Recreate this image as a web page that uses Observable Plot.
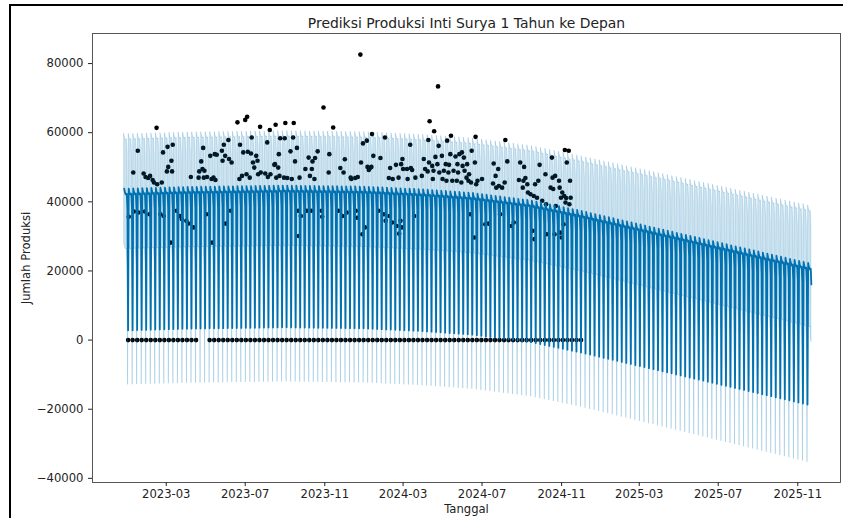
<!DOCTYPE html>
<html><head><meta charset="utf-8">
<script src="https://cdn.jsdelivr.net/npm/d3@7"></script>
<script src="https://cdn.jsdelivr.net/npm/@observablehq/plot@0.6"></script>
<style>
html,body{margin:0;padding:0;background:#fff;width:843px;height:518px;overflow:hidden;}
#wrap{position:relative;width:843px;height:518px;}
#frame{position:absolute;left:9px;top:4px;right:-5px;bottom:-5px;border-left:2.5px solid #000;border-top:2.5px solid #000;pointer-events:none;}
#chart{position:absolute;left:0;top:0;}
</style></head><body>
<div id="wrap"><div id="chart"></div><div id="frame"></div></div>
<script>
// ---- text ----
const titleText = "Prediksi Produksi Inti Surya 1 Tahun ke Depan";
const xLabel = "Tanggal";
const yLabel = "Jumlah Produksi";
const yTicks = [-40000, -20000, 0, 20000, 40000, 60000, 80000];
const xTicks = ["2023-03-01","2023-07-01","2023-11-01","2024-03-01","2024-07-01","2024-11-01","2025-03-01","2025-07-01","2025-11-01"];

// ---- forecast model (Prophet: piecewise-linear trend + weekly effect) ----
const historyStart = "2022-12-26";
const forecastEnd = "2025-11-22";
const trendDates  = ["2022-12-26","2023-04-01","2023-09-01","2024-01-01","2024-04-01","2024-06-15","2024-09-15","2024-12-01","2025-11-22"];
const trendValues = [35800, 36300, 36700, 36400, 35600, 34600, 32400, 29400, 14100];
// Sun, Mon, Tue, Wed, Thu, Fri, Sat
const weeklyEffect = [-33000, 8000, 7000, 6500, 6200, 6500, 2000];
const intervalDates = ["2022-12-26","2024-12-03","2025-11-22"];
const intervalHalfWidth = [15800, 15800, 16700];

// ---- observed: Sundays with zero production ----
const zeroDays2023 = ["2023-01-01","2023-01-08","2023-01-15","2023-01-22","2023-01-29","2023-02-05","2023-02-12","2023-02-19","2023-02-26","2023-03-05","2023-03-12","2023-03-19","2023-03-26","2023-04-02","2023-04-09","2023-04-16","2023-05-07","2023-05-14","2023-05-21","2023-05-28","2023-06-04","2023-06-11","2023-06-18","2023-06-25","2023-07-02","2023-07-09","2023-07-16","2023-07-23","2023-07-30","2023-08-06","2023-08-13","2023-08-20","2023-08-27","2023-09-03","2023-09-10","2023-09-17","2023-09-24","2023-10-01","2023-10-08","2023-10-15","2023-10-22","2023-10-29","2023-11-05","2023-11-12","2023-11-19","2023-11-26","2023-12-03","2023-12-10","2023-12-17","2023-12-24","2023-12-31"];
const zeroDays2024 = ["2024-01-07","2024-01-14","2024-01-21","2024-01-28","2024-02-04","2024-02-11","2024-02-18","2024-02-25","2024-03-03","2024-03-10","2024-03-17","2024-03-24","2024-03-31","2024-04-07","2024-04-14","2024-04-21","2024-04-28","2024-05-05","2024-05-12","2024-05-19","2024-05-26","2024-06-02","2024-06-09","2024-06-16","2024-06-23","2024-06-30","2024-07-07","2024-07-14","2024-07-21","2024-07-28","2024-08-04","2024-08-11","2024-08-18","2024-08-25","2024-09-01","2024-09-08","2024-09-15","2024-09-22","2024-09-29","2024-10-06","2024-10-13","2024-10-20","2024-10-27","2024-11-03","2024-11-10","2024-11-17","2024-11-24","2024-12-01"];

// ---- observed: working-day production (visible points) ----
const observed2023a = [["2023-01-02",35700],["2023-01-09",48500],["2023-01-10",37200],["2023-01-16",54800],["2023-01-17",36900],["2023-01-25",48200],["2023-01-27",37200],["2023-01-28",47200],["2023-02-01",46900],["2023-02-03",36400],["2023-02-04",47500],["2023-02-08",46300],["2023-02-10",45600],["2023-02-14",61400],["2023-02-15",45100],["2023-02-20",36400],["2023-02-22",45600],["2023-02-24",54300],["2023-02-25",35900],["2023-03-02",48800],["2023-03-03",55900],["2023-03-04",50100],["2023-03-08",28200],["2023-03-09",51900],["2023-03-10",48800],["2023-03-11",56500],["2023-03-17",37400],["2023-03-22",35900],["2023-03-25",35000],["2023-04-01",34500],["2023-04-04",33700],["2023-04-08",47200],["2023-04-12",32600],["2023-04-20",47000],["2023-04-21",48800],["2023-04-24",51700],["2023-04-26",49500],["2023-04-27",55600],["2023-04-28",47000],["2023-04-29",49000],["2023-05-02",36400],["2023-05-03",47200],["2023-05-08",53300],["2023-05-10",46600],["2023-05-11",28200],["2023-05-13",47000],["2023-05-15",53800],["2023-05-16",46300],["2023-05-18",53600],["2023-05-26",54800],["2023-05-27",51900],["2023-05-29",56500],["2023-05-31",53300],["2023-06-01",33700],["2023-06-05",57900],["2023-06-06",52400],["2023-06-09",37400],["2023-06-10",51400],["2023-06-19",63000],["2023-06-22",46600],["2023-06-23",56500],["2023-06-26",47500],["2023-06-28",54300]];
const observed2023b = [["2023-07-01",63700],["2023-07-03",48000],["2023-07-04",64600],["2023-07-05",54500],["2023-07-08",47000],["2023-07-10",54000],["2023-07-11",58600],["2023-07-13",51400],["2023-07-15",49900],["2023-07-18",53300],["2023-07-20",51900],["2023-07-21",48000],["2023-07-24",61700],["2023-07-25",48500],["2023-08-01",48200],["2023-08-04",57200],["2023-08-05",47200],["2023-08-08",60800],["2023-08-09",48000],["2023-08-15",50700],["2023-08-16",50900],["2023-08-17",62300],["2023-08-18",47000],["2023-08-21",49900],["2023-08-22",53800],["2023-08-23",47500],["2023-08-24",58400],["2023-08-30",47000],["2023-08-31",58400],["2023-09-01",62800],["2023-09-04",46900],["2023-09-09",54600],["2023-09-11",46600],["2023-09-13",58600],["2023-09-14",62800],["2023-09-16",51700],["2023-09-19",55600],["2023-09-21",37400],["2023-09-22",30100],["2023-09-23",47000],["2023-09-25",35900],["2023-10-02",49500],["2023-10-04",37400],["2023-10-07",52800],["2023-10-09",47500],["2023-10-11",37400],["2023-10-12",49500],["2023-10-13",51700],["2023-10-16",46600],["2023-10-17",52700],["2023-10-21",54600],["2023-10-27",37400],["2023-10-28",35700],["2023-10-30",67300],["2023-11-07",48500],["2023-11-08",53800],["2023-11-14",61500],["2023-11-22",37400],["2023-11-25",49800],["2023-11-28",35900],["2023-11-30",48500],["2023-12-02",52300],["2023-12-05",36900],["2023-12-11",47000],["2023-12-12",46600],["2023-12-18",46900],["2023-12-19",37400],["2023-12-21",35400],["2023-12-22",47200],["2023-12-26",82600],["2023-12-27",51400],["2023-12-29",30600],["2023-12-30",56900]];
const observed2024a = [["2024-01-02",32600],["2024-01-05",57700],["2024-01-06",50100],["2024-01-08",49200],["2024-01-10",49800],["2024-01-12",50100],["2024-01-13",59600],["2024-01-15",53300],["2024-01-23",37400],["2024-01-26",52700],["2024-01-31",36400],["2024-02-02",58600],["2024-02-03",34500],["2024-02-08",46900],["2024-02-09",35900],["2024-02-10",49800],["2024-02-13",34000],["2024-02-14",46600],["2024-02-19",50700],["2024-02-20",33000],["2024-02-23",47000],["2024-02-24",30800],["2024-02-26",34500],["2024-02-27",50900],["2024-02-28",32600],["2024-02-29",52400],["2024-03-01",49500],["2024-03-07",49500],["2024-03-08",46600],["2024-03-12",56500],["2024-03-13",49800],["2024-03-15",49200],["2024-03-18",35900],["2024-03-20",47000],["2024-03-30",47500],["2024-04-02",52400],["2024-04-04",49500],["2024-04-08",48800],["2024-04-09",57900],["2024-04-10",51400],["2024-04-11",63300],["2024-04-15",50400],["2024-04-16",46600],["2024-04-17",49000],["2024-04-18",60400],["2024-04-20",53000],["2024-04-23",50900],["2024-04-24",73400],["2024-04-25",56200],["2024-04-26",48500],["2024-04-30",53300],["2024-05-01",46600],["2024-05-03",49000],["2024-05-06",50900],["2024-05-07",46100],["2024-05-08",57700],["2024-05-10",48500],["2024-05-11",50700],["2024-05-13",53800],["2024-05-14",59100],["2024-05-16",46100],["2024-05-18",49000],["2024-05-21",53100],["2024-05-23",46100],["2024-05-24",50900],["2024-05-25",48500],["2024-05-27",53800],["2024-05-30",45600],["2024-05-31",54300],["2024-06-01",50400],["2024-06-03",52800],["2024-06-04",49000],["2024-06-07",47000],["2024-06-08",50900],["2024-06-10",46100],["2024-06-11",48000],["2024-06-13",36400],["2024-06-14",45600],["2024-06-15",54800],["2024-06-19",29700],["2024-06-20",51400],["2024-06-21",58800],["2024-06-22",45100],["2024-06-24",46100]];
const observed2024b = [["2024-07-01",46600],["2024-07-06",33500],["2024-07-11",33700],["2024-07-18",45300],["2024-07-19",51100],["2024-07-22",47500],["2024-07-23",44100],["2024-07-26",49500],["2024-07-27",44600],["2024-07-29",36400],["2024-08-01",44100],["2024-08-05",45600],["2024-08-06",57900],["2024-08-09",51700],["2024-08-16",33000],["2024-08-19",34000],["2024-08-27",46300],["2024-08-29",51400],["2024-09-02",44100],["2024-09-03",46100],["2024-09-04",50100],["2024-09-06",46900],["2024-09-09",45100],["2024-09-10",42700],["2024-09-14",42200],["2024-09-17",31600],["2024-09-19",41700],["2024-09-20",29200],["2024-09-21",45100],["2024-09-24",41200],["2024-09-26",46100],["2024-09-28",50700],["2024-10-02",40300],["2024-10-07",48000],["2024-10-08",39300],["2024-10-09",30600],["2024-10-15",44100],["2024-10-17",52800],["2024-10-18",47000],["2024-10-19",43700],["2024-10-21",30600],["2024-10-22",47500],["2024-10-23",38800],["2024-10-28",46100],["2024-10-29",44100],["2024-10-30",31100],["2024-10-31",41200],["2024-11-01",29700],["2024-11-02",42700],["2024-11-04",33500],["2024-11-05",41700],["2024-11-06",55000],["2024-11-07",39800],["2024-11-08",41100],["2024-11-09",51400],["2024-11-12",54800],["2024-11-13",39300],["2024-11-14",46100],["2024-11-15",41200]];

// ---- build tables ----
const parse = d3.utcParse("%Y-%m-%d");
const trendAt = d3.scaleUtc().domain(trendDates.map(parse)).range(trendValues);
const halfWidthAt = d3.scaleUtc().domain(intervalDates.map(parse)).range(intervalHalfWidth).clamp(true);
const days = d3.utcDay.range(parse(historyStart), d3.utcDay.offset(parse(forecastEnd), 1));
const forecast = days.map(ds => {
  const yhat = trendAt(ds) + weeklyEffect[ds.getUTCDay()];
  const hw = halfWidthAt(ds);
  return {ds, yhat, lo: yhat - hw, hi: yhat + hw};
});
const observed = [...observed2023a, ...observed2023b, ...observed2024a, ...observed2024b]
  .map(([d, v]) => ({ds: parse(d), y: v}))
  .concat([...zeroDays2023, ...zeroDays2024].map(d => ({ds: parse(d), y: 0})));

const fmtY = d => d < 0 ? "\u2212" + Math.abs(d) : String(d);
const color = "#0072B2";

const chart = Plot.plot({
  width: 843, height: 518,
  marginTop: 33, marginBottom: 36, marginLeft: 92, marginRight: 3,
  style: {fontFamily: "DejaVu Sans", fontSize: "11.6px", color: "#222", background: "#fff", overflow: "visible"},
  x: {type: "utc", domain: [parse("2022-11-07"), parse("2026-01-06")]},
  y: {domain: [-41200, 88700]},
  marks: [
    Plot.dot(observed, {x: "ds", y: "y", r: 2.3, fill: "#000", stroke: "none"}),
    Plot.line(forecast, {x: "ds", y: "yhat", stroke: color, strokeWidth: 1.8}),
    Plot.areaY(forecast, {x: "ds", y1: "lo", y2: "hi", fill: color, fillOpacity: 0.2, stroke: color, strokeOpacity: 0.2, strokeWidth: 0.9}),
    Plot.frame({stroke: "#444", strokeWidth: 0.9}),
    Plot.axisY({ticks: yTicks, tickFormat: fmtY, tickSize: 4, tickPadding: 5, label: null, fontSize: 11.6}),
    Plot.axisX({ticks: xTicks.map(parse), tickFormat: d3.utcFormat("%Y-%m"), tickSize: 4, tickPadding: 3, label: null, fontSize: 11.6}),
    Plot.text([yLabel], {text: d => d, frameAnchor: "left", textAnchor: "middle", dx: -66, rotate: -90, fontSize: 11.6}),
    Plot.text([xLabel], {text: d => d, frameAnchor: "bottom", textAnchor: "middle", dy: 30, fontSize: 11.6}),
    Plot.text([titleText], {text: d => d, frameAnchor: "top", dy: -15, fontSize: 13.9})
  ]
});
document.getElementById("chart").appendChild(chart);
</script>
</body></html>
